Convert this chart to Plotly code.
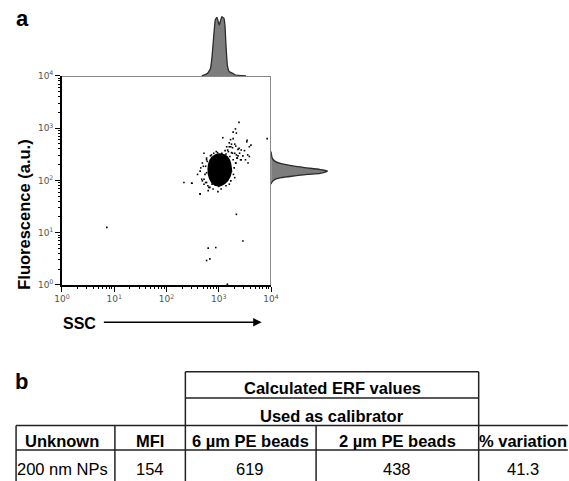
import plotly.graph_objects as go

W, H = 569, 481

# ---------------- data (log10 units) ----------------
# dense core of the event cloud (outline), log10 SSC / log10 fluorescence
core_lssc = [2.797, 2.835, 2.928, 3.058, 3.169, 3.225, 3.234, 3.169, 3.039, 2.909, 2.825, 2.797]
core_lfl = [2.221, 2.389, 2.483, 2.501, 2.445, 2.315, 2.147, 1.997, 1.904, 1.923, 2.035, 2.221]

# individual events around the core
ev_lssc = [3.386, 3.318, 3.274, 3.336, 3.076, 3.225, 3.274, 3.925, 3.200, 3.243,
           3.305, 3.535, 3.615, 3.151, 3.200, 3.262, 3.324, 3.367, 3.429, 3.491,
           3.553, 3.584, 3.460, 3.398, 3.120, 3.182, 3.243, 3.305, 3.336, 3.367,
           3.510, 3.559, 2.717, 2.766, 2.686, 2.655, 2.593, 2.717, 2.748, 2.686,
           2.481, 2.643, 2.791, 2.872, 2.934, 3.027, 3.089, 3.200, 3.243, 3.212,
           3.212, 3.138, 3.058, 3.027, 2.977, 2.903, 2.841, 2.779, 2.748, 2.766,
           3.274, 3.324, 3.349, 3.429, 3.541, 3.584,
           2.704, 2.736, 2.673, 2.766, 2.829, 2.890, 3.045, 3.138, 3.230, 3.281,
           3.294, 2.766, 2.859, 2.952, 3.169, 3.262, 3.355, 3.323, 3.416, 3.387,
           3.230, 2.643, 2.797, 2.983, 3.201, 3.305,
           0.859, 2.333, 2.487, 2.717, 2.810, 2.996, 2.643, 3.336, 3.461, 2.797,
           2.941, 2.766, 2.829, 3.164]
ev_lfl = [3.111, 2.986, 2.924, 2.906, 2.818, 2.781, 2.800, 2.800, 2.719, 2.694,
          2.694, 2.738, 2.675, 2.644, 2.644, 2.626, 2.657, 2.594, 2.582, 2.570,
          2.489, 2.458, 2.470, 2.520, 2.570, 2.551, 2.532, 2.520, 2.489, 2.470,
          2.395, 2.333, 2.520, 2.427, 2.333, 2.240, 2.115, 2.022, 1.960, 1.991,
          1.947, 1.742, 1.898, 1.929, 1.910, 1.929, 1.960, 2.115, 2.178, 2.302,
          2.458, 2.507, 2.520, 2.489, 2.532, 2.520, 2.470, 2.364, 2.271, 2.147,
          2.395, 2.333, 2.427, 2.395, 2.768, 2.645,
          2.271, 2.115, 2.022, 1.960, 1.867, 1.835, 1.835, 1.898, 1.992, 2.115,
          2.240, 2.395, 2.488, 2.552, 2.581, 2.520, 2.427, 2.333, 2.395, 2.613,
          2.645, 2.178, 1.805, 1.786, 1.928, 2.053,
          1.101, 1.960, 1.947, 1.928, 1.867, 1.885, 1.742, 1.350, 0.840, 0.704,
          0.715, 0.467, 0.498, 0.013]

# SSC histogram (top), relative counts
hx_lssc = [2.673, 2.779, 2.840, 2.872, 2.903, 2.933, 2.965, 3.007, 3.058, 3.100,
           3.119, 3.138, 3.164, 3.201, 3.275, 3.305, 3.522]
hx_cnt = [0, 4, 12, 34, 67, 95, 99, 86, 100, 97, 84, 51, 18, 7, 4, 2, 0]

# fluorescence histogram (right), relative counts
hy_lfl = [2.552, 2.427, 2.365, 2.320, 2.272, 2.240, 2.208, 2.178, 2.133, 2.115,
          2.085, 2.053, 2.021, 1.960, 1.928]
hy_cnt = [0, 2, 7, 18, 41, 64, 87, 100, 87, 64, 41, 18, 7, 1, 0]

decades = [1, 10, 100, 1000, 10000]
decade_labels = ["10<sup>0</sup>", "10<sup>1</sup>", "10<sup>2</sup>", "10<sup>3</sup>", "10<sup>4</sup>"]

# table
tbl_top = "Calculated ERF values"
tbl_mid = "Used as calibrator"
tbl_cols = ["Unknown", "MFI", "6 µm PE beads", "2 µm PE beads", "% variation"]
tbl_row = ["200 nm NPs", "154", "619", "438", "41.3"]

# ---------------- layout helpers ----------------
def px(x):
    return x / W

def py(y):
    return 1 - y / H

X0, X1 = 55.5, 270.7
Y0, Y1 = 285.0, 70.7
RH1 = 345.0

fig = go.Figure()

fig.add_trace(go.Scatter(
    x=[10 ** v for v in core_lssc], y=[10 ** v for v in core_lfl],
    mode="lines", fill="toself", fillcolor="black",
    line=dict(color="black", width=1.5, shape="spline", smoothing=0.8),
    xaxis="x", yaxis="y", hoverinfo="skip"))
fig.add_trace(go.Scatter(
    x=[10 ** v for v in ev_lssc], y=[10 ** v for v in ev_lfl],
    mode="markers", marker=dict(color="black", size=1.6, symbol="square"),
    xaxis="x", yaxis="y", cliponaxis=False))

fig.add_trace(go.Scatter(
    x=[10 ** v for v in hx_lssc], y=hx_cnt, mode="lines", fill="tozeroy",
    fillcolor="#7d7d7d", line=dict(color="#2b2b2b", width=1.3, shape="spline", smoothing=0.3),
    xaxis="x2", yaxis="y2"))
fig.add_trace(go.Scatter(
    x=hy_cnt, y=[10 ** v for v in hy_lfl], mode="lines", fill="tozerox",
    fillcolor="#7d7d7d", line=dict(color="#2b2b2b", width=1.3, shape="spline", smoothing=0.6),
    xaxis="x3", yaxis="y3"))

minor_vals = [m * d for d in decades[:-1] for m in range(2, 10)]
tickfont = dict(family="DejaVu Sans", size=9, color="#555")

fig.update_layout(
    width=W, height=H, margin=dict(l=0, r=0, t=0, b=0),
    paper_bgcolor="white", plot_bgcolor="white", showlegend=False,
    xaxis=dict(type="log", range=[0, 4], domain=[px(X0), px(X1)], anchor="y",
               showgrid=False, zeroline=False, showline=True, linecolor="black", linewidth=1.5,
               tickmode="array", tickvals=decades, ticktext=decade_labels,
               ticks="outside", ticklen=5, tickcolor="black", tickwidth=1.2, tickfont=tickfont,
               minor=dict(tickmode="array", tickvals=minor_vals, ticks="outside", ticklen=2.5,
                          tickcolor="black", tickwidth=1, showgrid=False)),
    yaxis=dict(type="log", range=[0, 4], domain=[py(Y0), py(Y1)], anchor="x",
               showgrid=False, zeroline=False, showline=True, linecolor="black", linewidth=1.5,
               tickmode="array", tickvals=decades, ticktext=decade_labels,
               ticks="outside", ticklen=5, tickcolor="black", tickwidth=1.2, tickfont=tickfont,
               minor=dict(tickmode="array", tickvals=minor_vals, ticks="outside", ticklen=2.5,
                          tickcolor="black", tickwidth=1, showgrid=False)),
    xaxis2=dict(type="log", range=[0, 4], domain=[px(X0), px(X1)], anchor="y2",
                showgrid=False, zeroline=False, showline=True, linecolor="#8a8a8a", linewidth=1,
                showticklabels=False, ticks=""),
    yaxis2=dict(range=[0, Y1 / 60.7 * 100], domain=[py(Y1), 1.0], anchor="x2", visible=False),
    xaxis3=dict(range=[0, (RH1 - X1) / 58 * 100], domain=[px(X1), px(RH1)], anchor="y3", visible=False),
    yaxis3=dict(type="log", range=[0, 4], domain=[py(Y0), py(Y1)], anchor="x3",
                showgrid=False, zeroline=False, showline=True, linecolor="#8a8a8a", linewidth=1,
                showticklabels=False, ticks=""),
)

ann = []
bold = dict(family="Liberation Sans, Arial", color="black")
ann.append(dict(x=px(14.5), y=py(12), text="<b>a</b>", font=dict(size=22, **bold)))
ann.append(dict(x=px(14), y=py(384), text="<b>b</b>", font=dict(size=22, **bold)))
ann.append(dict(x=px(16.5), y=py(213), text="<b>Fluorescence (a.u.)</b>", textangle=-90,
                font=dict(size=16.5, **bold)))
ann.append(dict(x=px(74), y=py(325), text="<b>SSC</b>", font=dict(size=16, **bold)))
ann.append(dict(x=px(261), y=py(323.3), ax=-(261 - 101.7), ay=0, axref="pixel", ayref="pixel",
                text="", showarrow=True, arrowhead=2, arrowsize=1.3, arrowwidth=1.3,
                arrowcolor="black"))

# table
col_edges = [8.3, 110.0, 182.5, 317.0, 484.3, 576.0]
row_lines = [374.0, 401.0, 429.3, 454.3, 500.0]
centers = [56.0, 146.0, 249.5, 400.5, 530.0]
tfont = dict(family="Liberation Sans, Arial", size=16.5, color="black")
ann.append(dict(x=px((col_edges[2] + col_edges[4]) / 2), y=py(391), text="<b>" + tbl_top + "</b>", font=tfont))
ann.append(dict(x=px((col_edges[2] + col_edges[4]) / 2), y=py(419.5), text="<b>" + tbl_mid + "</b>", font=tfont))
for c, t in zip(centers, tbl_cols):
    ann.append(dict(x=px(c), y=py(445.5), text="<b>" + t + "</b>", font=tfont))
for c, t in zip(centers, tbl_row):
    ann.append(dict(x=px(c), y=py(474), text=t, font=tfont))
for a in ann:
    a.setdefault("showarrow", False)
    a["xref"] = "paper"
    a["yref"] = "paper"
    a["xanchor"] = "center"
    a["yanchor"] = "middle"
fig.update_layout(annotations=ann)

lc = dict(color="#222", width=1.5)
shapes = []
def hline(y, xa, xb):
    shapes.append(dict(type="line", xref="paper", yref="paper", x0=px(xa), x1=px(xb), y0=py(y), y1=py(y), line=lc))
def vline(x, ya, yb):
    shapes.append(dict(type="line", xref="paper", yref="paper", x0=px(x), x1=px(x), y0=py(ya), y1=py(yb), line=lc))
hline(row_lines[0], col_edges[2], col_edges[4])
hline(row_lines[1], col_edges[2], col_edges[4])
hline(row_lines[2], col_edges[0], col_edges[5])
hline(row_lines[3], col_edges[0], col_edges[5])
vline(col_edges[0], row_lines[2], row_lines[4])
vline(col_edges[1], row_lines[2], row_lines[4])
vline(col_edges[2], row_lines[0], row_lines[4])
vline(col_edges[3], row_lines[2], row_lines[4])
vline(col_edges[4], row_lines[0], row_lines[4])
fig.update_layout(shapes=shapes)

fig.write_html("out.html")
